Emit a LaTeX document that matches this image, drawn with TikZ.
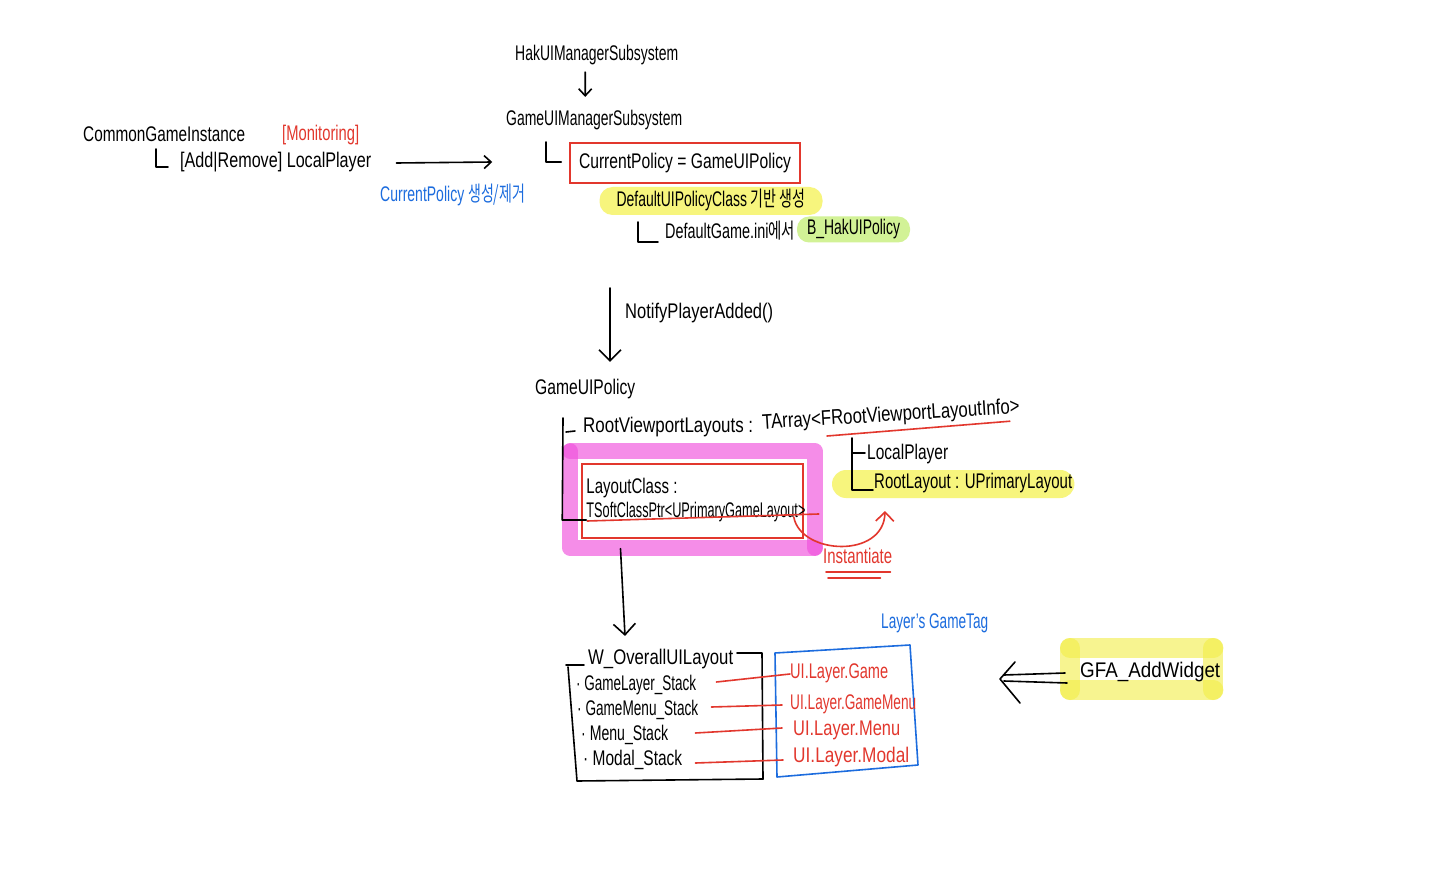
\documentclass[tikz,border=0pt]{standalone}
\usepackage{fontspec}
\setmainfont{Liberation Sans}
\newfontfamily\krfont{Noto Sans CJK KR}
\usepackage{graphicx}
\usetikzlibrary{arrows.meta,calc,backgrounds}

\definecolor{penred}{RGB}{226,55,45}
\definecolor{penblue}{RGB}{28,108,222}
\definecolor{hlyellow}{RGB}{247,245,125}
\definecolor{hlgreen}{RGB}{210,242,150}
\definecolor{hlpink}{RGB}{240,80,220}
\definecolor{hlgold}{RGB}{242,238,70}

% set a label to a given width (in pt) at a fixed, tall height
\newcommand\fitw[2]{\resizebox{#1pt}{18pt}{\strut #2}}

\tikzset{
  txt/.style={inner sep=0pt, anchor=west},
  ink/.style={line width=1.6pt, line cap=round, line join=round},
  redink/.style={ink, draw=penred},
  arr/.style={ink, -{Straight Barb[length=11pt,width=22pt]}},
  smallarr/.style={ink, -{Straight Barb[length=7pt,width=13pt]}},
  pinkband/.style={draw=hlpink, draw opacity=0.65, line width=16pt, line cap=round, line join=round},
  goldband/.style={draw=hlgold, draw opacity=0.6, line width=20pt, line cap=round},
  hlbox/.style={inner sep=0pt, rounded corners=13pt},
}

\begin{document}
\begin{tikzpicture}[x=1pt, y=-1pt, font=\fontsize{14}{17}\selectfont]
\useasboundingbox (0,0) rectangle (1440,893);

% ---- subsystems ----
\node[txt] (hak) at (515,55) {\fitw{163}{HakUIManagerSubsystem}};
\node[txt] (gum) at (506,120) {\fitw{176}{GameUIManagerSubsystem}};
\draw[smallarr, shorten <=4pt, shorten >=10pt] ([xshift=-11.5pt]hak.south) -- ([xshift=-9pt]gum.north);

% ---- game instance ----
\node[txt] (cgi) at (83,136) {\fitw{162}{CommonGameInstance}};
\node[txt, text=penred] (mon) at (282,135) {\fitw{77}{[Monitoring]}};
\node[txt] (arl) at (180,162) {\fitw{191}{[Add|Remove] LocalPlayer}};
\draw[ink] ($(arl.west)+(-24,-13)$) |- ($(arl.west)+(-12,5)$);
\node[txt, text=penblue] (cpc) at (380,196) {\fitw{145}{CurrentPolicy {\krfont 생성/제거}}};

% ---- current policy ----
\node[draw=penred, line width=1.5pt, minimum width=230pt, minimum height=40pt, inner sep=0pt] (cp) at (685,163)
  {\fitw{212}{CurrentPolicy = GameUIPolicy}};
\draw[ink] ($(cp.west)+(-23,-21)$) |- ($(cp.west)+(-8,-1)$);
\draw[smallarr] ($(arl.east)+(25,1)$) -- ($(cp.west)+(-77,-1)$);

\node[hlbox, fill=hlyellow, minimum width=223pt, minimum height=28pt] (dpc) at (711,201)
  {\fitw{189}{DefaultUIPolicyClass {\krfont 기반 생성}}};
\node[txt] (dgi) at (665,233) {\fitw{130}{DefaultGame.ini{\krfont 에서}}};
\draw[ink] ($(dgi.west)+(-27,-11)$) |- ($(dgi.west)+(-7,9)$);
\node[hlbox, fill=hlgreen, rounded corners=12pt, minimum width=113pt, minimum height=26pt] (bhak) at (853.5,229.5)
  {\fitw{93}{B\_HakUIPolicy}};

% ---- player added ----
\node[txt] (gup) at (535,389) {\fitw{100}{GameUIPolicy}};
\coordinate (nstart) at (610,288);
\draw[arr, shorten >=14pt] (nstart) -- (nstart |- gup.north);
\node[txt] (nlab) at (625,313) {\fitw{148}{NotifyPlayerAdded()}};

% ---- GameUIPolicy members ----
\node[txt] (rvl) at (583,427) {\fitw{170}{RootViewportLayouts :}};
\node[txt, rotate=3.5] (rva) at (762,424) {\fitw{258}{TArray<FRootViewportLayoutInfo>}};
\draw[redink] ($(rva.west)+(65,12)$) -- ($(rva.east)+(-10,13)$);

\node[draw=penred, line width=1.5pt, minimum width=221pt, minimum height=74pt, inner sep=0pt] (lc) at (692.5,501) {};
\node[txt] (lc1) at ($(lc.west)+(5,-13)$) {\fitw{91}{LayoutClass :}};
\node[txt] (lc2) at ($(lc.west)+(5,11)$) {\fitw{219}{TSoftClassPtr<UPrimaryGameLayout>}};
\draw[redink] ($(lc.west)+(6,20)$) -- ($(lc.east)+(15,13)$);

\draw[ink] ($(rvl.west)+(-20,-9)$) -- ($(lc.west)+(-19,19)$) -- ($(lc.west)+(5,19)$);
\draw[ink] ($(rvl.west)+(-17,5)$) -- ($(rvl.west)+(-8,4)$);

\node[txt] (lp) at (867,454) {\fitw{81}{LocalPlayer}};
\node[txt] (rl) at (874,483) {\fitw{198}{RootLayout : UPrimaryLayout}};
\draw[ink] ($(lp.west)+(-15,-16)$) |- ($(rl.west)+(-1,7)$);
\draw[ink] ($(lp.west)+(-15,-1)$) -- ($(lp.west)+(-2,-1)$);

% instantiate
\draw[redink, -{Straight Barb[length=9pt,width=18pt]}] ($(lc.east)+(-10,16)$)
  .. controls +(7,38) and +(-1,48) .. ($(rl.west)+(11,28)$);
\node[txt, text=penred] (inst) at (823,558) {\fitw{69}{Instantiate}};
\draw[redink] ($(inst.south west)+(3,1)$) -- ($(inst.south east)+(-2,1)$);
\draw[redink] ($(inst.south west)+(5,7)$) -- ($(inst.south east)+(-12,7)$);

% ---- overall layout widget ----
\node[txt] (ovt) at (588,659) {\fitw{145}{W\_OverallUILayout}};
\draw[arr] ($(lc.south)+(-72,10)$) -- ($(ovt.north west)+(37,-10)$);
\draw[ink] (566,665) -- (584,665);
\draw[ink] (737,653) -- (762,653) -- (763,779);
\draw[ink] (568,667) -- (577,781) -- (763,779);

\node[txt] (i1) at (576,685) {\fitw{120}{· GameLayer\_Stack}};
\node[txt] (i2) at (577,710) {\fitw{121}{· GameMenu\_Stack}};
\node[txt] (i3) at (581,735) {\fitw{87}{· Menu\_Stack}};
\node[txt] (i4) at (583,760) {\fitw{99}{· Modal\_Stack}};

% ---- layer tags ----
\node[txt, text=penblue] (lgt) at (881,623) {\fitw{107}{Layer's GameTag}};
\draw[ink, draw=penblue] (775,653) -- (910,645) -- (918,765) -- (777,777) -- cycle;
\node[txt, text=penred] (u1) at (790,673) {\fitw{98}{UI.Layer.Game}};
\node[txt, text=penred] (u2) at (790,704) {\fitw{126}{UI.Layer.GameMenu}};
\node[txt, text=penred] (u3) at (793,730) {\fitw{107}{UI.Layer.Menu}};
\node[txt, text=penred] (u4) at (793,757) {\fitw{116}{UI.Layer.Modal}};

\draw[redink] ($(i1.east)+(20,-3)$) -- ($(u1.west)+(0,1)$);
\draw[redink] ($(i2.east)+(13,-3)$) -- ($(u2.west)+(-8,1)$);
\draw[redink] ($(i3.east)+(27,-2)$) -- ($(u3.west)+(-11,-2)$);
\draw[redink] ($(i4.east)+(13,3)$) -- ($(u4.west)+(-10,3)$);

% ---- game feature action ----
\node[txt] (gfa) at (1080,672) {\fitw{140}{GFA\_AddWidget}};
\coordinate (dtip) at (1000,679);
\draw[ink] ($(gfa.west)+(-15,1)$) -- ($(dtip)+(4,-4)$);
\draw[ink] ($(gfa.west)+(-13,11)$) -- ($(dtip)+(4,2)$);
\draw[ink] ($(dtip)+(15,-17)$) -- (dtip) -- ($(dtip)+(20,24)$);

% ---- highlighter strokes ----
\begin{scope}[on background layer]
  \fill[white] (0,0) rectangle (1440,893);
  \fill[hlyellow, rounded corners=14pt] ($(rl.west)+(-42,-13)$) rectangle ($(rl.east)+(2,15)$);
  \draw[pinkband] ($(lc.north west)+(-11,-12)$) -- ($(lc.north east)+(11,-12)$) -- ($(lc.south east)+(11,9)$);
  \draw[pinkband] ($(lc.north west)+(-11,-12)$) -- ($(lc.south west)+(-11,9)$) -- ($(lc.south east)+(11,9)$);
  \coordinate (gtl) at ($(gfa.west)+(-10,-24)$);
  \coordinate (gbl) at ($(gfa.west)+(-10,18)$);
  \coordinate (gtr) at ($(gfa.east)+(-7,-24)$);
  \coordinate (gbr) at ($(gfa.east)+(-7,18)$);
  \draw[goldband] (gtl) -- (gtr);
  \draw[goldband] (gtr) -- (gbr);
  \draw[goldband] (gbr) -- (gbl);
  \draw[goldband] (gbl) -- (gtl);
\end{scope}
\end{tikzpicture}
\end{document}
